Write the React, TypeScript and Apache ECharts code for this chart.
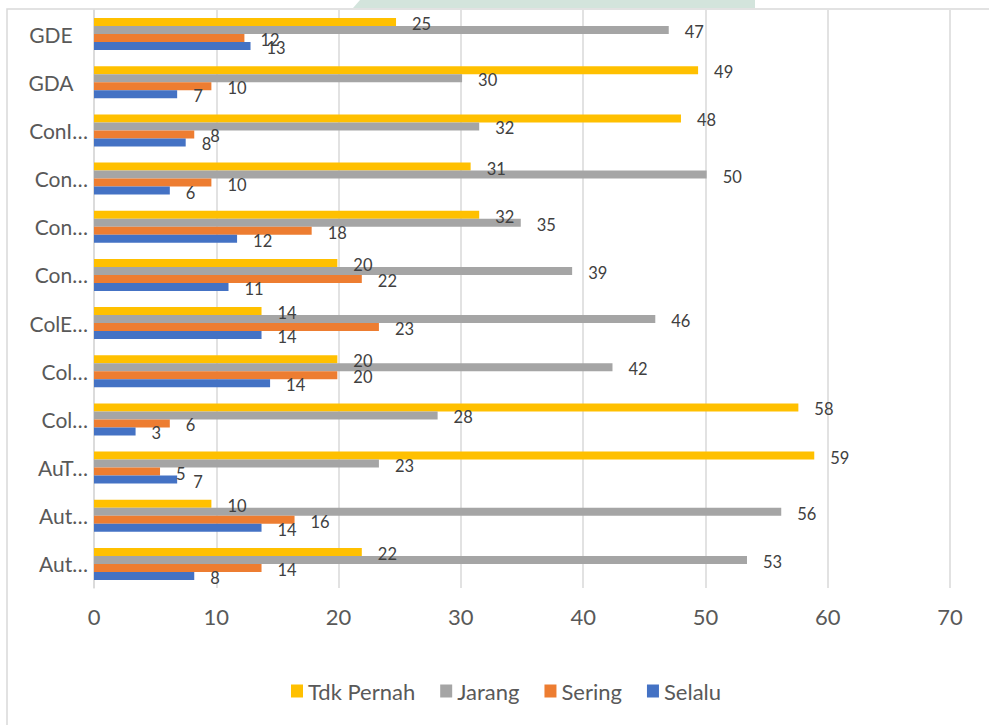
import React, { useEffect, useRef } from "react";
import * as echarts from "echarts";

// Categories listed bottom to top (as drawn on the y axis)
const categories = ["Aut…", "Aut…", "AuT…", "Col…", "Col…", "ColE…", "Con…", "Con…", "Con…", "ConI…", "GDA", "GDE"];
const tdkPernah = [21.9, 9.6, 58.9, 57.6, 19.9, 13.7, 19.9, 31.5, 30.8, 48.0, 49.4, 24.7];
const jarang = [53.4, 56.2, 23.3, 28.1, 42.4, 45.9, 39.1, 34.9, 50.1, 31.5, 30.1, 47.0];
const sering = [13.7, 16.4, 5.4, 6.2, 19.9, 23.3, 21.9, 17.8, 9.6, 8.2, 9.6, 12.3];
const selalu = [8.2, 13.7, 6.8, 3.4, 14.4, 13.7, 11.0, 11.7, 6.2, 7.5, 6.8, 12.8];
const xTicks = { min: 0, max: 70, interval: 10 };
const legendOrder = ["Tdk Pernah", "Jarang", "Sering", "Selalu"];

const FONT = "Lato, 'Noto Sans', sans-serif";

export default function App() {
  const ref = useRef<HTMLDivElement>(null);
  useEffect(() => {
    if (!ref.current) return;
    const chart = echarts.init(ref.current, undefined, { renderer: "svg" });
    const mk = (name: string, data: number[], color: string) => ({
      name,
      type: "bar",
      data,
      barWidth: 8,
      barGap: "0%",
      itemStyle: { color },
      label: {
        show: true,
        position: "right",
        distance: 16,
        offset: [0, 2],
        color: "#404040",
        fontFamily: FONT,
        fontSize: 16.5,
        formatter: (p: any) => String(Math.round(p.value)),
      },
    });
    chart.setOption({
      animation: false,
      backgroundColor: "#ffffff",
      textStyle: { fontFamily: FONT },
      graphic: [
        {
          type: "rect",
          shape: { x: 7, y: 9, width: 1000, height: 730 },
          style: { fill: "none", stroke: "#d9d9d9", lineWidth: 1.5 },
          silent: true,
        },
        {
          type: "polygon",
          shape: { points: [[360, 0], [755, 0], [755, 8], [353, 8]] },
          style: { fill: "#d3e4dc" },
          silent: true,
        },
      ],
      grid: { left: 94, right: 39, top: 10, bottom: 137, containLabel: false },
      legend: {
        data: legendOrder,
        left: 286,
        top: 675,
        itemWidth: 12,
        itemHeight: 13,
        itemGap: 25,
        icon: "rect",
        textStyle: { color: "#595959", fontSize: 22, fontFamily: FONT },
      },
      xAxis: {
        type: "value",
        min: xTicks.min,
        max: xTicks.max,
        interval: xTicks.interval,
        axisLine: { show: false },
        axisTick: { show: false },
        splitLine: { show: true, lineStyle: { color: "#d9d9d9", width: 1.5 } },
        axisLabel: { color: "#595959", fontSize: 22, fontFamily: FONT, margin: 17 },
      },
      yAxis: {
        type: "category",
        data: categories,
        axisLine: { show: true, lineStyle: { color: "#d9d9d9", width: 1.5 } },
        axisTick: { show: false },
        axisLabel: {
          color: "#595959",
          fontSize: 21,
          fontFamily: FONT,
          margin: 6,
          formatter: (v: string) => (v.indexOf("…") >= 0 ? v : `{c|${v}}`),
          rich: { c: { width: 74, align: "center", color: "#595959", fontSize: 21, fontFamily: FONT } },
        },
      },
      series: [
        mk("Tdk Pernah", tdkPernah, "#FFC000"),
        mk("Jarang", jarang, "#A5A5A5"),
        mk("Sering", sering, "#ED7D31"),
        mk("Selalu", selalu, "#4472C4"),
      ],
    });
    return () => chart.dispose();
  }, []);
  return <div ref={ref} style={{ width: 989, height: 725, position: "absolute", left: 0, top: 0 }} />;
}
